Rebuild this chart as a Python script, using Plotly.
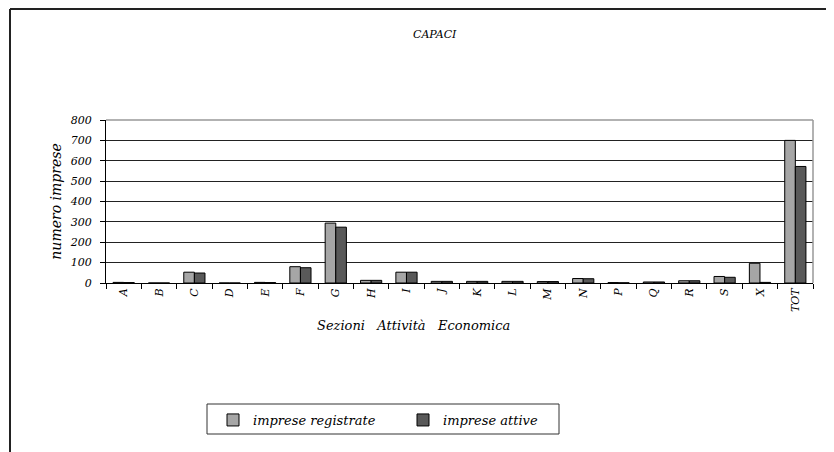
import plotly.graph_objects as go

categories = ["A", "B", "C", "D", "E", "F", "G", "H", "I", "J", "K", "L", "M", "N", "P", "Q", "R", "S", "X", "TOT"]
imprese_registrate = [3, 0, 53, 0, 3, 80, 294, 13, 53, 8, 8, 8, 7, 22, 2, 5, 11, 32, 97, 700]
imprese_attive = [2, 0, 49, 0, 2, 75, 274, 13, 53, 8, 8, 8, 7, 21, 1, 5, 11, 28, 3, 572]
y_ticks = [0, 100, 200, 300, 400, 500, 600, 700, 800]

FONT = "DejaVu Serif"

fig = go.Figure()
fig.add_trace(go.Bar(
    x=categories, y=imprese_registrate, name="imprese registrate",
    marker=dict(color="#A6A6A6", line=dict(color="black", width=1)),
))
fig.add_trace(go.Bar(
    x=categories, y=imprese_attive, name="imprese attive",
    marker=dict(color="#595959", line=dict(color="black", width=1)),
))

OFF = 8  # page body margin
W, H = 834 - OFF, 452 - OFF
SL, SR, ST, SB = 106, 813, 120, 283
L, T = SL - OFF, ST - OFF
R = 834 - SR
B = 452 - SB
pw, ph = W - L - R, H - T - B

def px(x):
    return (x - OFF - L) / pw

def py(y):
    return (H - B - (y - OFF)) / ph

fig.update_layout(
    width=W, height=H,
    margin=dict(l=L, r=R, t=T, b=B),
    paper_bgcolor="white", plot_bgcolor="white",
    barmode="group", bargap=0.4, bargroupgap=0,
    font=dict(family=FONT, color="black"),
    showlegend=True,
    legend=dict(
        orientation="h", x=px(213), y=py(405), xanchor="left", yanchor="top",
        borderwidth=0, bgcolor="rgba(0,0,0,0)",
        font=dict(family=FONT, size=13, style="italic"),
        itemwidth=30, entrywidth=145, entrywidthmode="pixels",
    ),
    xaxis=dict(
        type="category", tickson="boundaries", ticks="outside", ticklen=5,
        tickcolor="black", showline=True, linecolor="black", linewidth=1,
        tickangle=-90, tickfont=dict(family=FONT, size=11, style="italic"),
        showgrid=False,
    ),
    yaxis=dict(
        range=[0, 800], tickvals=y_ticks, ticks="outside", ticklen=5,
        tickcolor="black", showline=True, linecolor="black", linewidth=1,
        showgrid=True, gridcolor="#222", gridwidth=1,
        tickfont=dict(family=FONT, size=11, style="italic"),
        ticklabelstandoff=6,
        title=dict(text="numero imprese", font=dict(family=FONT, size=14, style="italic"), standoff=4),
        zeroline=False,
    ),
    annotations=[
        dict(text="CAPACI", x=px(435), y=py(35), xref="paper", yref="paper",
             xanchor="center", yanchor="middle",
             showarrow=False, font=dict(family=FONT, size=11, style="italic")),
        dict(text="Sezioni\u00a0\u00a0\u00a0Attività\u00a0\u00a0\u00a0Economica",
             x=px(413), y=py(325), xref="paper", yref="paper",
             xanchor="center", yanchor="middle",
             showarrow=False, font=dict(family=FONT, size=13, style="italic")),
    ],
    shapes=[
        dict(type="line", xref="paper", yref="paper", x0=px(10), x1=px(834), y0=py(9), y1=py(9),
             line=dict(color="#222", width=2)),
        dict(type="line", xref="paper", yref="paper", x0=px(10), x1=px(10), y0=py(9), y1=py(452),
             line=dict(color="#222", width=2)),
        dict(type="line", xref="paper", yref="paper", x0=0, x1=1, y0=1, y1=1,
             line=dict(color="#999", width=1.5)),
        dict(type="line", xref="paper", yref="paper", x0=1, x1=1, y0=0, y1=1,
             line=dict(color="#999", width=1.5)),
        dict(type="rect", xref="paper", yref="paper", x0=px(207), x1=px(559), y0=py(404), y1=py(434),
             line=dict(color="#333", width=1), fillcolor="rgba(0,0,0,0)"),
    ],
)

fig.write_html("out.html")
